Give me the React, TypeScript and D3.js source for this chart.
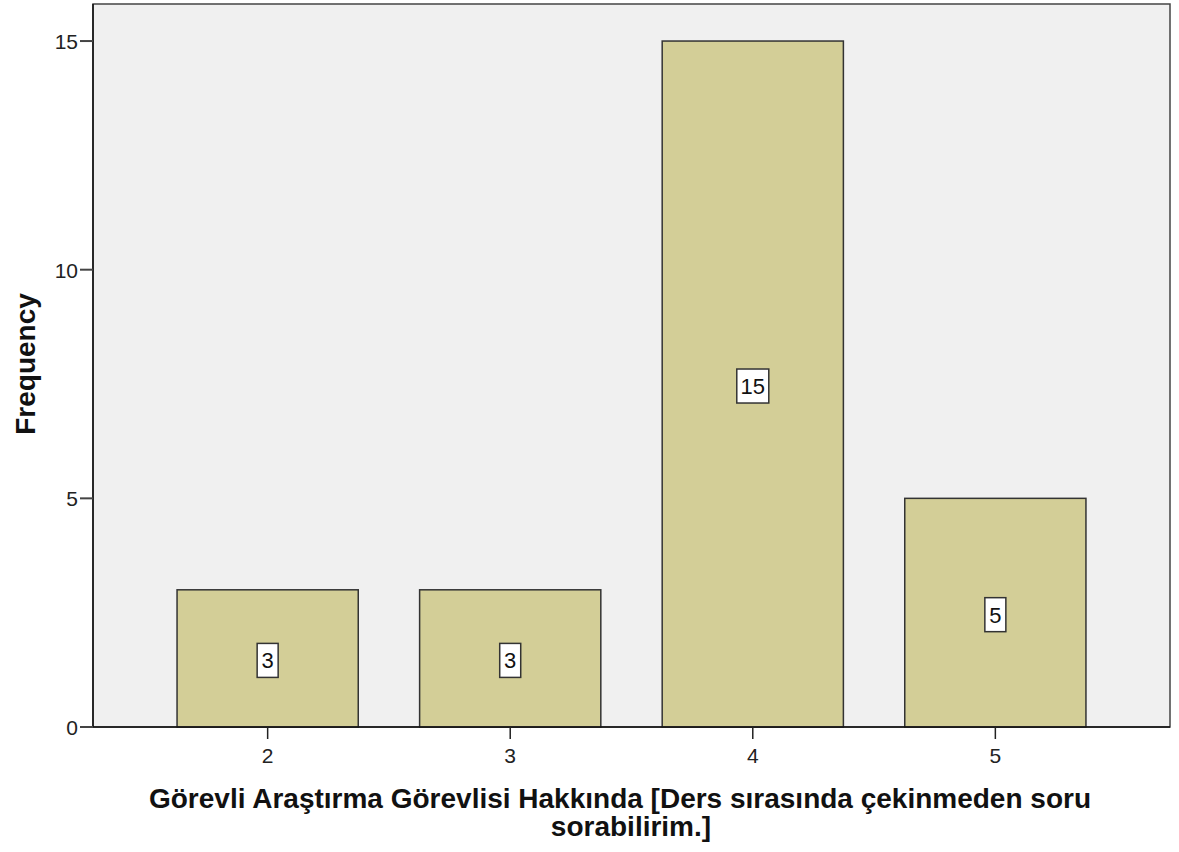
import React, { useEffect, useRef } from "react";
import * as d3 from "d3";

const categories = ["2", "3", "4", "5"];
const frequencies = [3, 3, 15, 5];
const yTicks = [0, 5, 10, 15];
const xTitleLines = [
  "Görevli Araştırma Görevlisi Hakkında [Ders sırasında çekinmeden soru",
  "sorabilirim.]",
];

const App = () => {
  const svgRef = useRef<SVGSVGElement>(null);

  useEffect(() => {
    const w = 1179;
    const h = 852;
    const left = 93;
    const right = 1170;
    const top = 4;
    const bottom = 727;
    const font = "Liberation Sans, Arial, sans-serif";

    const svg = d3.select(svgRef.current).attr("width", w).attr("height", h);
    svg.selectAll("*").remove();

    const x = d3.scalePoint().domain(categories).range([left, right]).padding(0.72);
    const barW = x.step() * 0.747;
    const y = d3.scaleLinear().domain([0, 15.81]).range([bottom, top]);

    // plot background
    svg.append("rect")
      .attr("x", left).attr("y", top)
      .attr("width", right - left).attr("height", bottom - top)
      .attr("fill", "#f0f0f0")
      .attr("stroke", "#444").attr("stroke-width", 1.5);

    // bars
    const bars = svg.selectAll("g.bar")
      .data(categories.map((c, i) => ({ c, v: frequencies[i] })))
      .join("g").classed("bar", true);

    bars.append("rect")
      .attr("x", d => x(d.c)! - barW / 2)
      .attr("y", d => y(d.v))
      .attr("width", barW)
      .attr("height", d => bottom - y(d.v))
      .attr("fill", "#d3ce97")
      .attr("stroke", "#333").attr("stroke-width", 1.5);

    // value labels
    bars.each(function (d) {
      const g = d3.select(this);
      const cy = y(d.v / 2) + 2;
      const txt = String(d.v);
      const bw = txt.length > 1 ? 32 : 21;
      g.append("rect")
        .attr("x", x(d.c)! - bw / 2)
        .attr("y", cy - 17)
        .attr("width", bw).attr("height", 34)
        .attr("fill", "#fff").attr("stroke", "#333").attr("stroke-width", 1.5);
      g.append("text")
        .attr("x", x(d.c)!)
        .attr("y", cy + 8)
        .attr("text-anchor", "middle")
        .attr("font-family", font).attr("font-size", 22)
        .attr("fill", "#111")
        .text(txt);
    });

    // y axis
    const yAxis = svg.append("g");
    yAxis.append("line")
      .attr("x1", left).attr("x2", left).attr("y1", top).attr("y2", bottom)
      .attr("stroke", "#111").attr("stroke-width", 1.5);
    yTicks.forEach(t => {
      yAxis.append("line")
        .attr("x1", left - 13).attr("x2", left).attr("y1", y(t)).attr("y2", y(t))
        .attr("stroke", "#444").attr("stroke-width", 2);
      yAxis.append("text")
        .attr("x", left - 15).attr("y", y(t) + 8)
        .attr("text-anchor", "end")
        .attr("font-family", font).attr("font-size", 21)
        .attr("fill", "#222")
        .text(t);
    });

    // x axis
    const xAxis = svg.append("g");
    xAxis.append("line")
      .attr("x1", left).attr("x2", right).attr("y1", bottom).attr("y2", bottom)
      .attr("stroke", "#111").attr("stroke-width", 1.5);
    categories.forEach(c => {
      xAxis.append("line")
        .attr("x1", x(c)!).attr("x2", x(c)!).attr("y1", bottom).attr("y2", bottom + 12)
        .attr("stroke", "#222").attr("stroke-width", 1.5);
      xAxis.append("text")
        .attr("x", x(c)!).attr("y", bottom + 36)
        .attr("text-anchor", "middle")
        .attr("font-family", font).attr("font-size", 21)
        .attr("fill", "#222")
        .text(c);
    });

    // titles
    svg.append("text")
      .attr("transform", `translate(35, 364) rotate(-90)`)
      .attr("text-anchor", "middle")
      .attr("font-family", font).attr("font-size", 28).attr("font-weight", "bold")
      .attr("fill", "#111")
      .text("Frequency");

    const titleX = [620, 631];
    xTitleLines.forEach((line, i) => {
      svg.append("text")
        .attr("x", titleX[i]).attr("y", 808 + i * 28)
        .attr("text-anchor", "middle")
        .attr("font-family", font).attr("font-size", 28).attr("font-weight", "bold")
        .attr("fill", "#111")
        .text(line);
    });
  }, []);

  return <svg ref={svgRef} style={{ position: "absolute", left: 0, top: 0 }} />;
};

export default App;
